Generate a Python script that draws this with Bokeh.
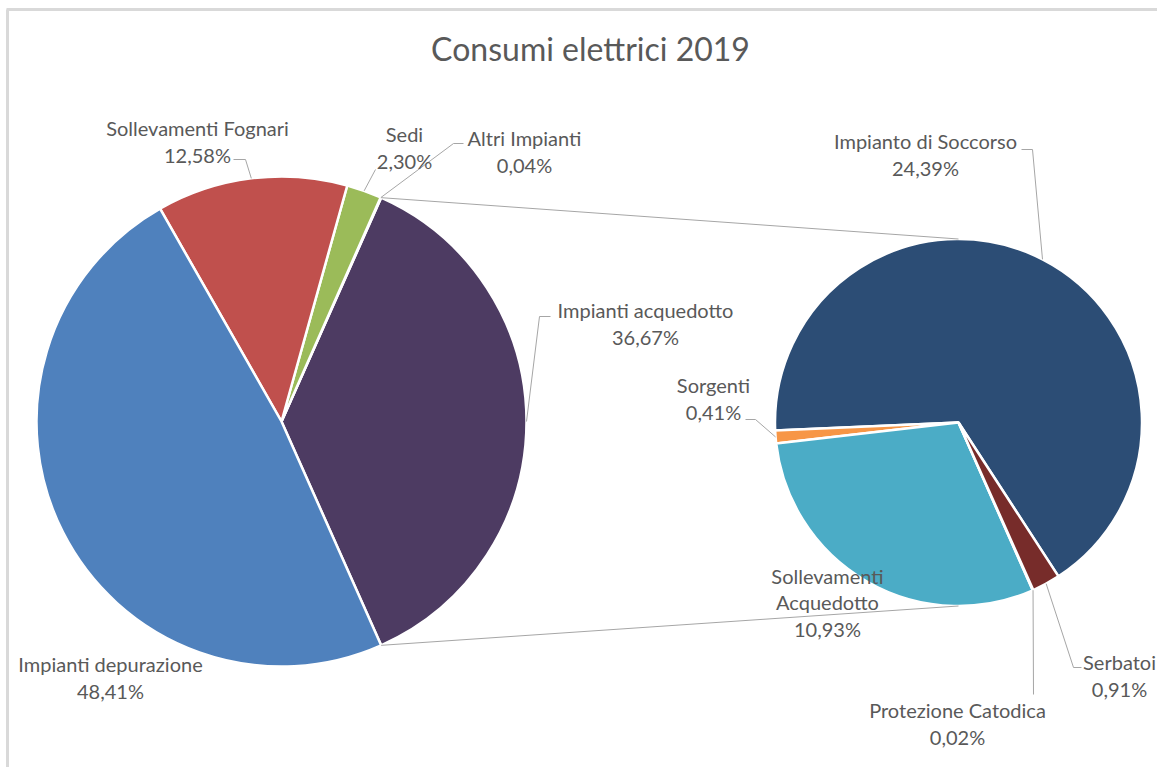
import numpy as np
from bokeh.plotting import figure
from bokeh.models import Range1d, ColumnDataSource
from bokeh.core.properties import value
from bokeh.embed import file_html
from bokeh.resources import INLINE

W, H = 1157, 767

# ---------------- data ----------------
title_text = "Consumi elettrici 2019"

main_labels = ["Impianti acquedotto", "Altri Impianti", "Sedi",
               "Sollevamenti Fognari", "Impianti depurazione"]
main_values = [36.67, 0.04, 2.30, 12.58, 48.41]
main_colors = ["#4D3B62", "#8064A2", "#9BBB59", "#C0504D", "#4F81BD"]

sec_labels = ["Impianto di Soccorso", "Sorgenti", "Sollevamenti Acquedotto",
              "Protezione Catodica", "Serbatoi"]
sec_values = [24.39, 0.41, 10.93, 0.02, 0.91]
sec_colors = ["#2C4D75", "#F79646", "#4BACC6", "#5F7530", "#772C2A"]

# ---------------- layout (pixel positions, y from top) ----------------
main_c = (281, 421); main_r = 245
sec_c = (958, 422); sec_r = 183.5
sec_start_deg = -57.0

label_pos = {
    "Impianti depurazione": (110, 677),
    "Sollevamenti Fognari": (197, 141),
    "Sedi": (404, 147),
    "Altri Impianti": (524, 151),
    "Impianti acquedotto": (645, 323),
    "Impianto di Soccorso": (925, 154),
    "Sorgenti": (713, 398),
    "Sollevamenti Acquedotto": (827, 602),
    "Serbatoi": (1119, 675),
    "Protezione Catodica": (957, 723),
}
leader_elbows = {
    "Sollevamenti Fognari": [(245, 159), (233, 159)],
    "Sedi": [(375, 169)],
    "Altri Impianti": [(453, 143), (463, 143)],
    "Impianti acquedotto": [(539, 316), (550, 316)],
    "Impianto di Soccorso": [(1032, 149), (1021, 149)],
    "Sorgenti": [(755, 419), (745, 419)],
    "Serbatoi": [(1073, 667), (1081, 667)],
    "Protezione Catodica": [(1033, 694)],
}

FONT = "Lato"
TXT = "#595959"
LEAD = "#A6A6A6"


def fy(py):
    return H - py


p = figure(width=W, height=H, x_range=Range1d(0, W), y_range=Range1d(0, H),
           output_backend="svg", toolbar_location=None,
           x_axis_location=None, y_axis_location=None, min_border=0)
p.grid.visible = False
p.outline_line_color = None
p.background_fill_color = "white"
p.border_fill_color = "white"

# chart frame (top and left edges visible)
p.line([6, W], [fy(9), fy(9)], line_color="#D9D9D9", line_width=3)
p.line([7, 7], [fy(9), 0], line_color="#D9D9D9", line_width=3)


def wedges(values, start, total):
    fr = np.array(values, dtype=float) / total
    ang = start + np.concatenate([[0], np.cumsum(fr)]) * 2 * np.pi
    return ang[:-1], ang[1:]


# main pie
main_total = sum(main_values)
m_start = -main_values[0] / main_total * np.pi
ms, me = wedges(main_values, m_start, main_total)
src_m = ColumnDataSource(dict(start=ms, end=me, color=main_colors, label=main_labels))
p.wedge(x=main_c[0], y=fy(main_c[1]), radius=main_r, start_angle="start", end_angle="end",
        fill_color="color", line_color="white", line_width=2.5, source=src_m)

# secondary pie
sec_total = sum(sec_values)
ss, se = wedges(sec_values, np.deg2rad(sec_start_deg), sec_total)
src_s = ColumnDataSource(dict(start=ss, end=se, color=sec_colors, label=sec_labels))
p.wedge(x=sec_c[0], y=fy(sec_c[1]), radius=sec_r, start_angle="start", end_angle="end",
        fill_color="color", line_color="white", line_width=2.5, source=src_s)

# connector lines between the "other" slice and the secondary pie
a_top, a_bot = me[0], ms[0]
for a, sy in ((a_top, 1), (a_bot, -1)):
    x0 = main_c[0] + main_r * np.cos(a)
    y0 = fy(main_c[1]) + main_r * np.sin(a)
    x1 = sec_c[0]
    y1 = fy(sec_c[1]) + sy * sec_r
    p.line([x0, x1], [y0, y1], line_color=LEAD, line_width=1)

# leader lines
anchors = {}
for lab, s, e in zip(main_labels, ms, me):
    m = (s + e) / 2
    anchors[lab] = (main_c[0] + main_r * np.cos(m), fy(main_c[1]) + main_r * np.sin(m))
for lab, s, e in zip(sec_labels, ss, se):
    m = (s + e) / 2
    anchors[lab] = (sec_c[0] + sec_r * np.cos(m), fy(sec_c[1]) + sec_r * np.sin(m))

for lab, pts in leader_elbows.items():
    xs = [anchors[lab][0]] + [q[0] for q in pts]
    ys = [anchors[lab][1]] + [fy(q[1]) for q in pts]
    p.line(xs, ys, line_color=LEAD, line_width=1)


def pct(v):
    return f"{v:.2f}".replace(".", ",") + "%"


lx, ly, lt = [], [], []
for lab, v in list(zip(main_labels, main_values)) + list(zip(sec_labels, sec_values)):
    name = lab.replace(" ", "\n") if lab == "Sollevamenti Acquedotto" else lab
    lx.append(label_pos[lab][0])
    ly.append(fy(label_pos[lab][1]))
    lt.append(name + "\n" + pct(v))
p.text(x=lx, y=ly, text=lt, text_align="center", text_baseline="middle",
       text_font=value(FONT), text_font_size="20px", text_color=TXT, text_line_height=1.1)

# title
p.text(x=[590], y=[fy(48)], text=[title_text], text_align="center", text_baseline="middle",
       text_font=value(FONT), text_font_size="32px", text_color=TXT)

open("out.html", "w").write(file_html(p, INLINE))
